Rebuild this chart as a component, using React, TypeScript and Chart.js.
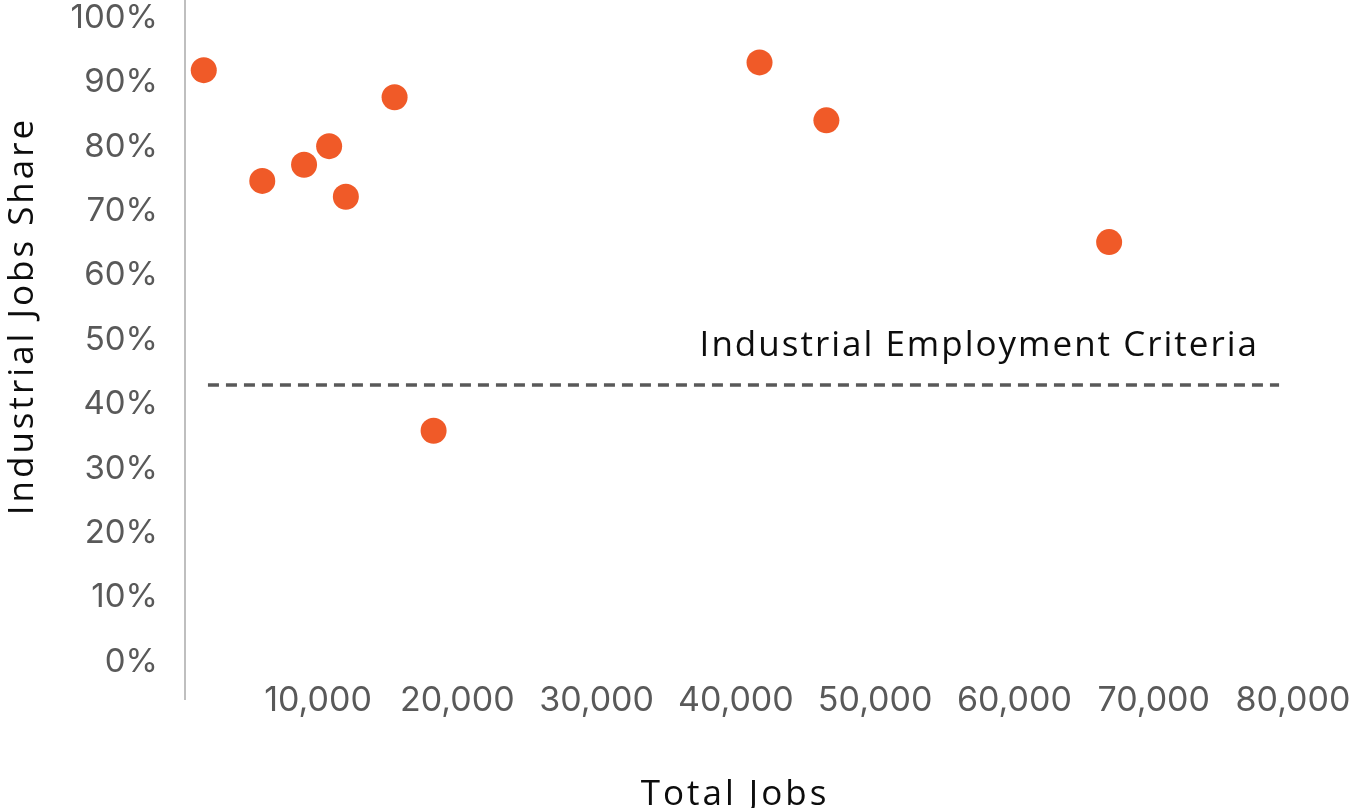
import React, { useEffect, useRef } from "react";
import { Chart, registerables } from "chart.js";

Chart.register(...registerables);

// ---- data ----
const totalJobs = [1800, 6000, 9000, 10800, 12000, 15500, 18300, 41700, 46500, 66800];
const industrialShare = [0.919, 0.747, 0.772, 0.801, 0.7225, 0.877, 0.359, 0.931, 0.841, 0.652];
const criteriaX = [2100, 79000];
const criteriaY = [0.43, 0.43];
const xTickValues = [10000, 20000, 30000, 40000, 50000, 60000, 70000, 80000];
const yTickValues = [0, 0.1, 0.2, 0.3, 0.4, 0.5, 0.6, 0.7, 0.8, 0.9, 1.0];
const xTitle = "Total Jobs";
const yTitle = "Industrial Jobs Share";
const criteriaLabel = "Industrial Employment Criteria";

const TEXT_FONT = "'Open Sans', 'DejaVu Sans', sans-serif";
const TICK_FONT = "Inter, 'Open Sans', sans-serif";
const DOT = "#F05A28";
const GREY = "#595959";

const textPlugin = {
  id: "extraText",
  afterDraw(chart: any) {
    const ctx = chart.ctx;
    const xs = chart.scales.x;
    const ys = chart.scales.y;
    const area = chart.chartArea;
    ctx.save();
    // y axis line (extends a little below the plot area, like the original)
    ctx.strokeStyle = "#BFBFBF";
    ctx.lineWidth = 2;
    ctx.beginPath();
    ctx.moveTo(area.left - 1, area.top - 2);
    ctx.lineTo(area.left - 1, area.bottom + 14);
    ctx.stroke();

    ctx.fillStyle = "#0d0d0d";
    ctx.textBaseline = "alphabetic";
    // criteria label, right aligned near the end of the dashed line
    ctx.font = `35px ${TEXT_FONT}`;
    (ctx as any).letterSpacing = "2px";
    ctx.textAlign = "right";
    ctx.fillText(criteriaLabel, xs.getPixelForValue(criteriaX[1]) - 20, ys.getPixelForValue(criteriaY[0]) - 29);
    // x title
    (ctx as any).letterSpacing = "3px";
    ctx.textAlign = "center";
    ctx.fillText(xTitle, 735, 805);
    // y title
    ctx.translate(33, 316);
    ctx.rotate(-Math.PI / 2);
    ctx.fillText(yTitle, 0, 0);
    ctx.restore();
  },
};

export default function App() {
  const ref = useRef<HTMLCanvasElement | null>(null);

  useEffect(() => {
    if (!ref.current) return;
    const chart = new Chart(ref.current, {
      type: "scatter",
      data: {
        datasets: [
          {
            label: "Industrial share",
            data: totalJobs.map((x, i) => ({ x, y: industrialShare[i] })),
            backgroundColor: DOT,
            borderWidth: 0,
            pointRadius: 13,
            pointHoverRadius: 13,
          },
          {
            type: "line",
            label: "Criteria",
            data: criteriaX.map((x, i) => ({ x, y: criteriaY[i] })),
            borderColor: GREY,
            borderWidth: 3.5,
            borderDash: [11, 7],
            pointRadius: 0,
            fill: false,
          } as any,
        ],
      },
      options: {
        animation: false,
        responsive: false,
        devicePixelRatio: 1,
        layout: { autoPadding: false, padding: { top: 2, right: 66, left: 0, bottom: 0 } },
        plugins: { legend: { display: false }, tooltip: { enabled: false } },
        scales: {
          x: {
            type: "linear",
            position: "bottom",
            min: 524,
            max: 80000,
            grid: { display: false, drawTicks: false },
            border: { display: false },
            afterBuildTicks: (s: any) => {
              s.ticks = xTickValues.map((v) => ({ value: v }));
            },
            afterFit: (s: any) => {
              s.height = 122;
              s.paddingLeft = 0;
              s.paddingRight = 0;
            },
            ticks: {
              autoSkip: false,
              maxRotation: 0,
              padding: -6,
              color: GREY,
              font: { family: TICK_FONT, size: 34 },
              callback: (v: any) => Number(v).toLocaleString("en-US"),
            },
          },
          y: {
            type: "linear",
            min: -0.0373,
            max: 1.0248,
            grid: { display: false, drawTicks: false },
            border: { display: false },
            afterBuildTicks: (s: any) => {
              s.ticks = yTickValues.map((v) => ({ value: v }));
            },
            afterFit: (s: any) => {
              s.width = 186;
              s.paddingTop = 0;
              s.paddingBottom = 0;
            },
            ticks: {
              autoSkip: false,
              padding: 28,
              color: GREY,
              font: { family: TICK_FONT, size: 33 },
              callback: (v: any) => `${Math.round(Number(v) * 100)}%`,
            },
          },
        },
      },
      plugins: [textPlugin],
    });
    return () => chart.destroy();
  }, []);

  return (
    <div style={{ position: "fixed", left: 0, top: 0, width: 1359, height: 808, background: "#fff" }}>
      <canvas ref={ref} width={1359} height={808} style={{ display: "block" }} />
    </div>
  );
}
